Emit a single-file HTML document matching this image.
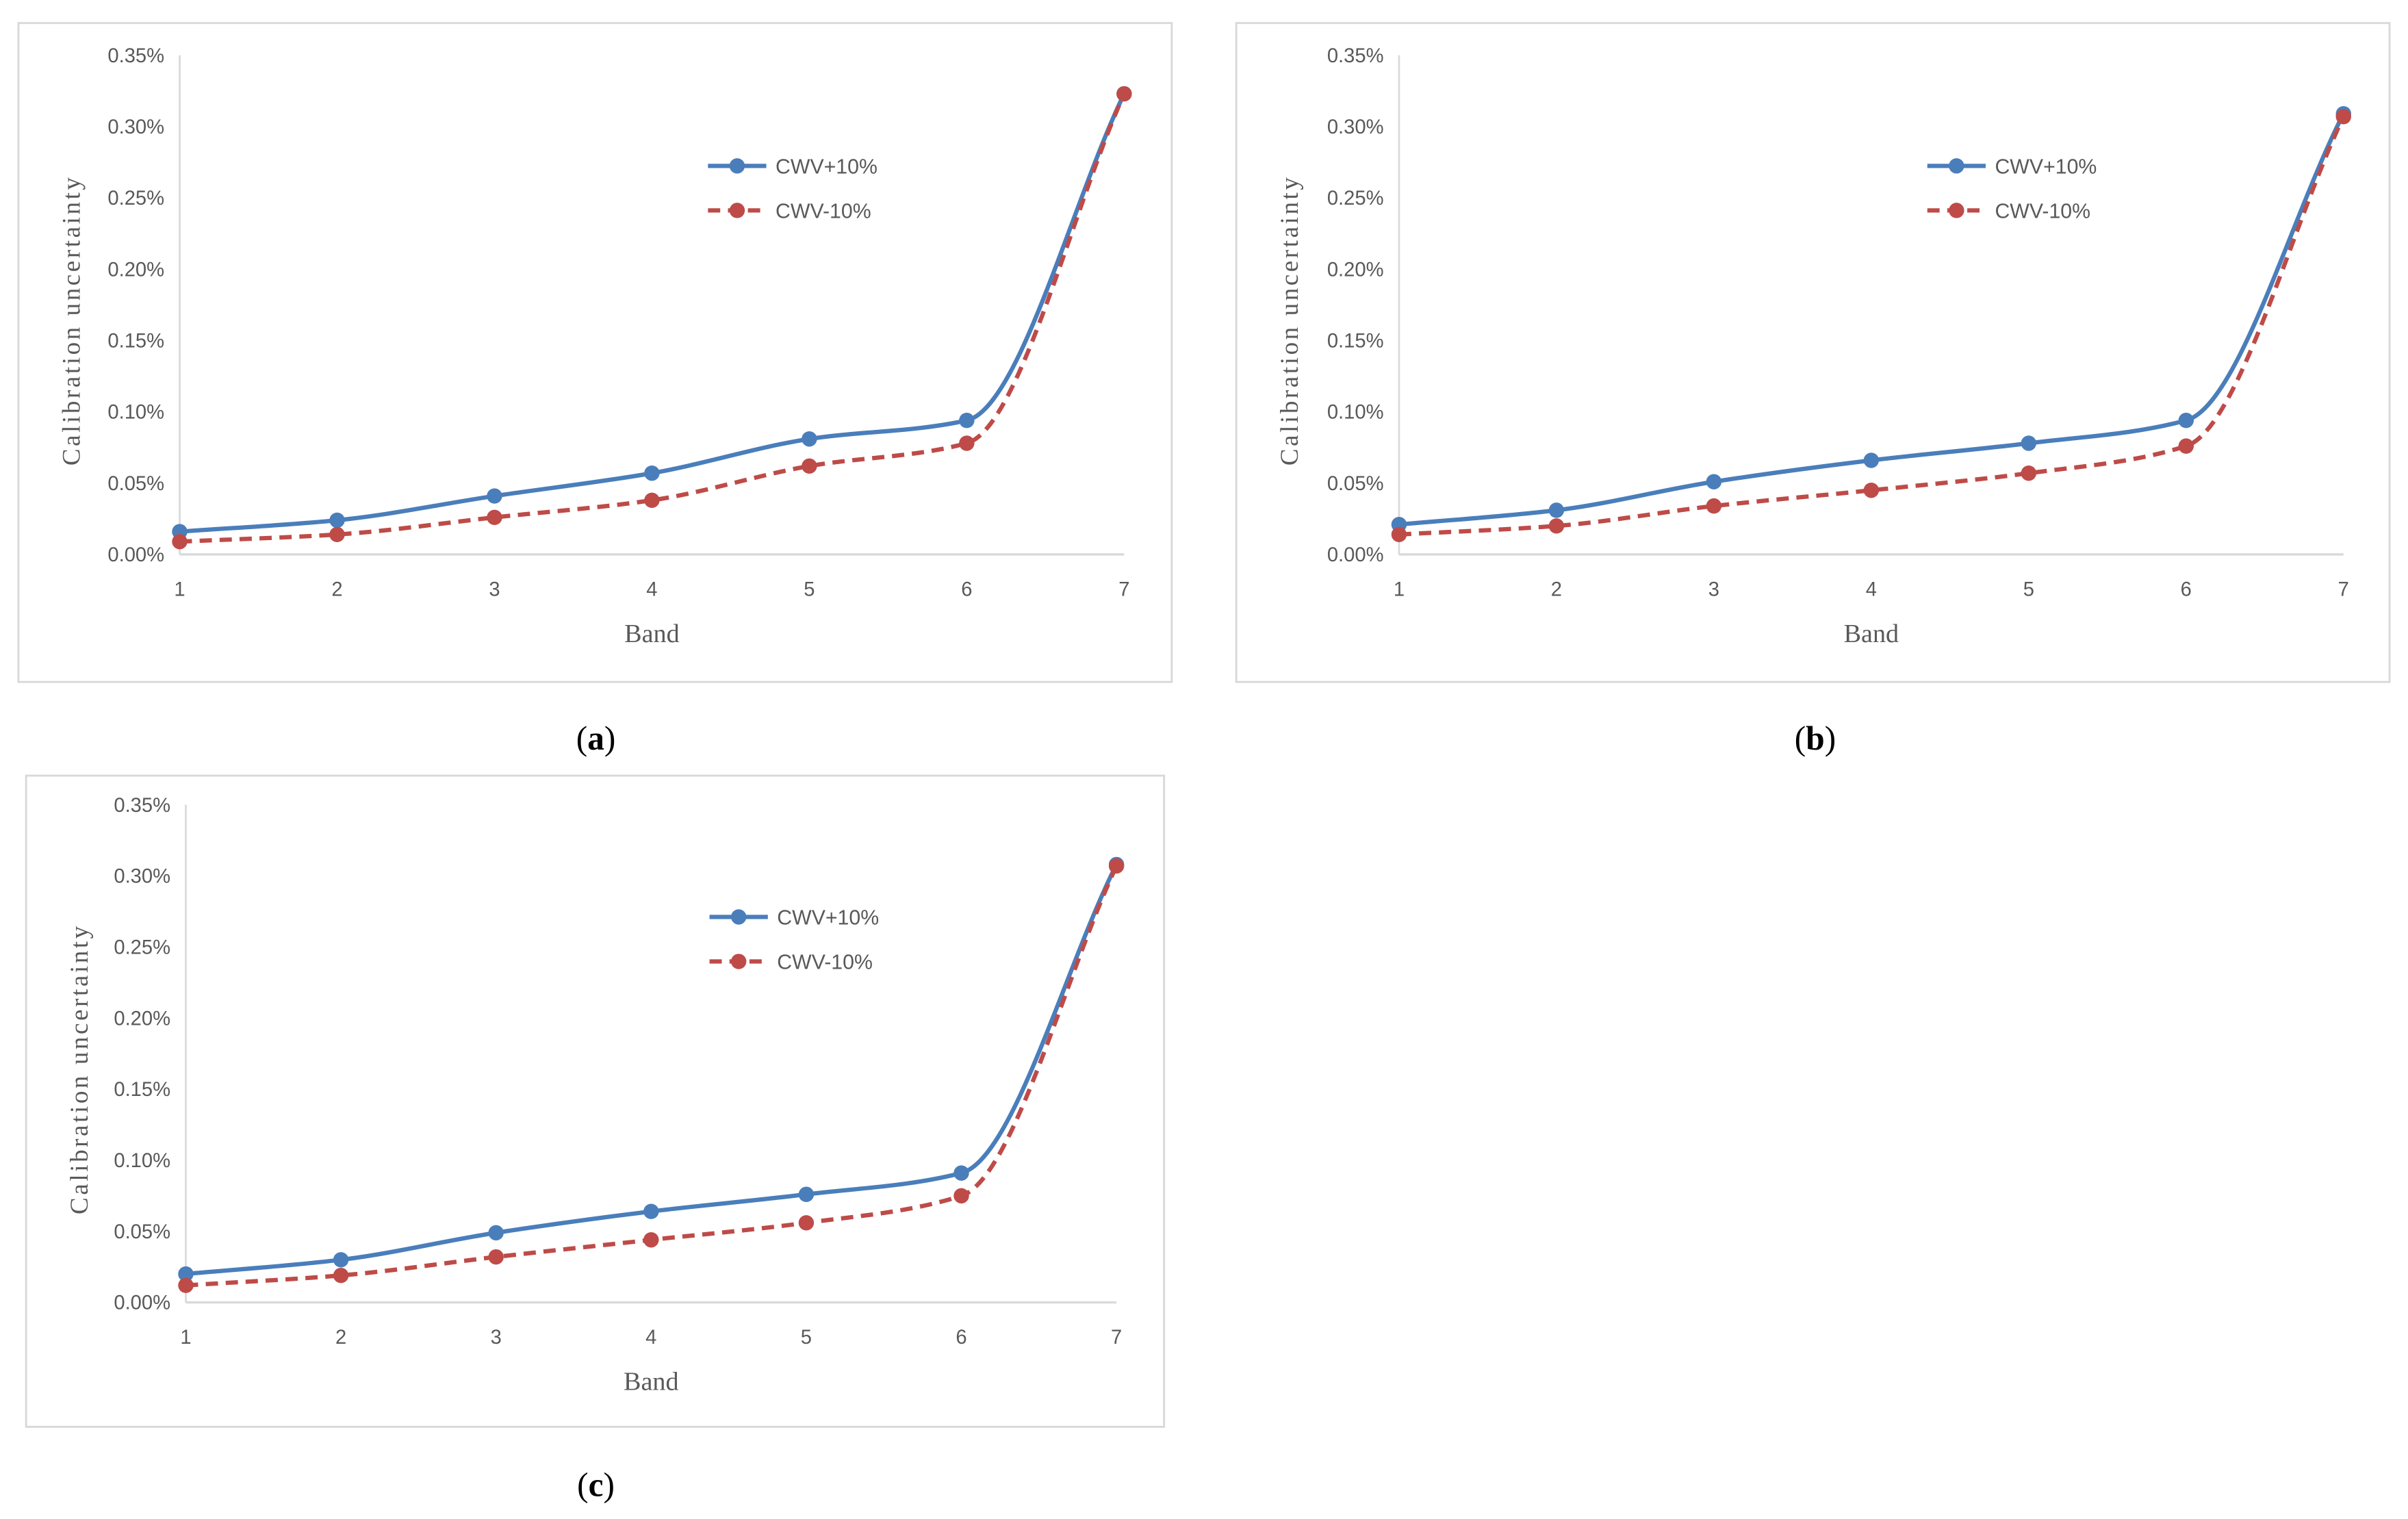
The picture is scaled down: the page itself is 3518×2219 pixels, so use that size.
<!DOCTYPE html>
<html><head><meta charset="utf-8"><style>
html,body{margin:0;padding:0;background:#fff;}
svg{display:block;}
</style></head><body>
<svg id="fig" width="3518" height="2219" viewBox="0 0 1568 989" xmlns="http://www.w3.org/2000/svg"></svg>
<script>
const categories = [1,2,3,4,5,6,7];
const yTicks = [0,0.05,0.10,0.15,0.20,0.25,0.30,0.35];
const yTickLabels = ["0.00%","0.05%","0.10%","0.15%","0.20%","0.25%","0.30%","0.35%"];
const seriesNames = ["CWV+10%","CWV-10%"];
const aPlus  = [0.016,0.024,0.041,0.057,0.081,0.094,0.323];
const aMinus = [0.009,0.014,0.026,0.038,0.062,0.078,0.323];
const bPlus  = [0.021,0.031,0.051,0.066,0.078,0.094,0.309];
const bMinus = [0.014,0.020,0.034,0.045,0.057,0.076,0.307];
const cPlus  = [0.020,0.030,0.049,0.064,0.076,0.091,0.308];
const cMinus = [0.012,0.019,0.032,0.044,0.056,0.075,0.307];

const NS="http://www.w3.org/2000/svg";
const svg=document.getElementById('fig');
function mk(tag,attrs,parent){const e=document.createElementNS(NS,tag);for(const k in attrs)e.setAttribute(k,attrs[k]);(parent||svg).appendChild(e);return e;}

const panels=[
 {id:'a',frame:[12,15,751,429],x0:117,x1:732,y0:361,y1:36,leg:[461,108],cap:[388,480],plus:aPlus,minus:aMinus},
 {id:'b',frame:[805,15,751,429],x0:911,x1:1526,y0:361,y1:36,leg:[1255,108],cap:[1182,480],plus:bPlus,minus:bMinus},
 {id:'c',frame:[17,505,741,424],x0:121,x1:727,y0:848,y1:524,leg:[462,597],cap:[388,966],plus:cPlus,minus:cMinus}
];

// monotone cubic (Fritsch-Carlson) to avoid overshoot
function smoothPath(pts){
  const n=pts.length,h=[],dl=[],m=[];
  for(let i=0;i<n-1;i++){h[i]=pts[i+1][0]-pts[i][0];dl[i]=(pts[i+1][1]-pts[i][1])/h[i];}
  m[0]=dl[0];m[n-1]=dl[n-2];
  for(let i=1;i<n-1;i++){
    if(dl[i-1]*dl[i]<=0)m[i]=0;
    else{const w1=2*h[i]+h[i-1],w2=h[i]+2*h[i-1];m[i]=(w1+w2)/(w1/dl[i-1]+w2/dl[i]);}
  }
  let d=`M${pts[0][0]},${pts[0][1]}`;
  for(let i=0;i<n-1;i++){
    const p1=pts[i],p2=pts[i+1],hh=h[i]/3;
    d+=` C${p1[0]+hh},${p1[1]+m[i]*hh} ${p2[0]-hh},${p2[1]-m[i+1]*hh} ${p2[0]},${p2[1]}`;
  }
  return d;
}

panels.forEach(p=>{
  const g=mk('g',{});
  
  
  const fr=mk('rect',{x:p.frame[0],y:p.frame[1],width:p.frame[2],height:p.frame[3],fill:'#fff',stroke:'#d9d9d9','stroke-width':1.3},g);
  
  
  const xs=v=>p.x0+(v-1)*(p.x1-p.x0)/6;
  const ys=v=>p.y0-(v/0.35)*(p.y0-p.y1);
  const ya=mk('line',{x1:p.x0,y1:p.y1,x2:p.x0,y2:p.y0,stroke:'#d9d9d9','stroke-width':1.2},g);
  
  
  const xa=mk('line',{x1:p.x0,y1:p.y0,x2:p.x1,y2:p.y0,stroke:'#d9d9d9','stroke-width':1.5},g);
  
  
  yTicks.forEach((v,i)=>{
    const t=mk('text',{x:p.x0-10,y:ys(v)+4.5,'text-anchor':'end','font-family':'Liberation Sans, sans-serif','font-size':13,fill:'#595959'},g);
    t.textContent=yTickLabels[i];
    
    
  });
  categories.forEach(c=>{
    const t=mk('text',{x:xs(c),y:p.y0+27,'text-anchor':'middle','font-family':'Liberation Sans, sans-serif','font-size':13,fill:'#595959'},g);
    t.textContent=c;
    
    
  });
  const xt=mk('text',{x:(p.x0+p.x1)/2,y:p.y0+57,'text-anchor':'middle','font-family':'Liberation Serif, serif','font-size':17,fill:'#595959'},g);
  xt.textContent='Band';
  
  
  const ytx=p.frame[0]+40, yty=(p.y0+p.y1)/2+10;
  const yt=mk('text',{x:ytx,y:yty,'text-anchor':'middle','font-family':'Liberation Serif, serif','font-size':16.5,'letter-spacing':1.6,fill:'#595959',transform:`rotate(-90 ${ytx} ${yty})`},g);
  yt.textContent='Calibration uncertainty';
  
  
  [[p.plus,'#4a7ebb',null],[p.minus,'#be4b48','8,5']].forEach((s,si)=>{
    const pts=s[0].map((v,i)=>[xs(categories[i]),ys(v)]);
    const a={d:smoothPath(pts),fill:'none',stroke:s[1],'stroke-width':2.8};
    if(s[2])a['stroke-dasharray']=s[2];
    const path=mk('path',a,g);
    
    
    pts.forEach(q=>{
      const c=mk('circle',{cx:q[0],cy:q[1],r:5,fill:s[1]},g);
      
      
    });
    const ly=p.leg[1]+si*29;
    const ll=mk('line',{x1:p.leg[0],y1:ly,x2:p.leg[0]+38,y2:ly,stroke:s[1],'stroke-width':2.8},g);
    if(s[2])ll.setAttribute('stroke-dasharray','8,5');
    
    
    const lc=mk('circle',{cx:p.leg[0]+19,cy:ly,r:5,fill:s[1]},g);
    
    
    const lt=mk('text',{x:p.leg[0]+44,y:ly+5,'font-family':'Liberation Sans, sans-serif','font-size':13.5,fill:'#595959'},g);
    lt.textContent=seriesNames[si];
    
    
  });
  const cap=mk('text',{x:p.cap[0],y:p.cap[1]+8,'text-anchor':'middle','font-family':'Liberation Serif, serif','font-size':22,fill:'#000'},g);
  cap.innerHTML='(<tspan font-weight="bold">'+p.id+'</tspan>)';
  
  
});
</script>
</body></html>
